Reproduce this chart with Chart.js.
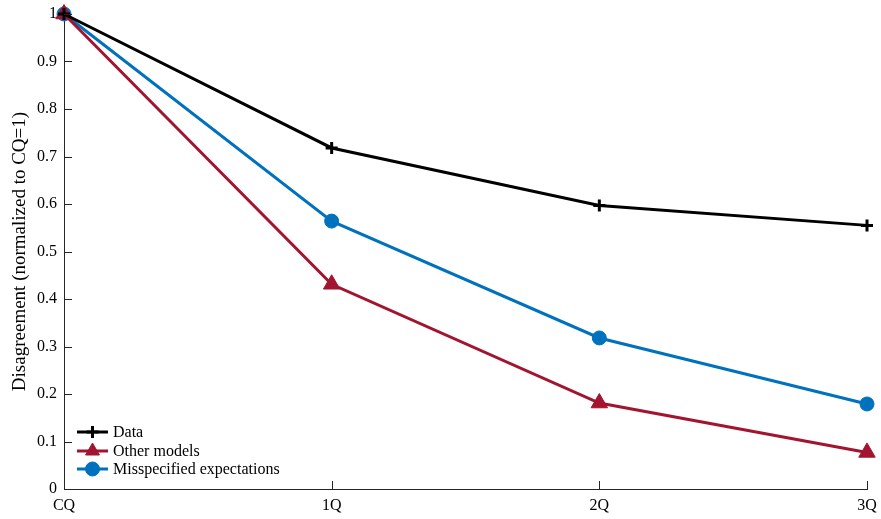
<!DOCTYPE html>
<html>
<head>
<meta charset="utf-8">
<script src="https://cdn.jsdelivr.net/npm/chart.js@4"></script>
<style>
  html, body { margin: 0; padding: 0; background: #fff; }
  #wrap { width: 881px; height: 519px; }
</style>
</head>
<body>
<div id="wrap"><canvas id="c" width="881" height="519"></canvas></div>
<script>
// Forecast horizons and normalized disagreement (CQ = 1)
const horizons = ['CQ', '1Q', '2Q', '3Q'];
const dataSeries = [1.0, 0.718, 0.597, 0.555];
const otherModels = [1.0, 0.431, 0.181, 0.077];
const misspecified = [1.0, 0.564, 0.318, 0.179];
const seriesNames = ['Data', 'Other models', 'Misspecified expectations'];
const yTicks = [0, 0.1, 0.2, 0.3, 0.4, 0.5, 0.6, 0.7, 0.8, 0.9, 1];

const FONT = '"Liberation Serif", "DejaVu Serif", serif';
const AXIS = '#262626';

// Inward tick marks on the left and bottom axes
const inwardTicks = {
  id: 'inwardTicks',
  afterDatasetsDraw(chart) {
    const { ctx, chartArea, scales } = chart;
    ctx.save();
    ctx.strokeStyle = AXIS;
    ctx.lineWidth = 1;
    ctx.beginPath();
    scales.y.ticks.forEach(t => {
      const y = Math.round(scales.y.getPixelForValue(t.value)) + 0.5;
      ctx.moveTo(chartArea.left, y);
      ctx.lineTo(chartArea.left + 8, y);
    });
    horizons.forEach((h, i) => {
      const x = Math.round(scales.x.getPixelForValue(i)) + 0.5;
      ctx.moveTo(x, chartArea.bottom);
      ctx.lineTo(x, chartArea.bottom - 8);
    });
    ctx.stroke();
    ctx.restore();
  }
};

// Legend with a line segment and marker for each series
const lineLegend = {
  id: 'lineLegend',
  afterDraw(chart) {
    const { ctx, chartArea } = chart;
    const x0 = chartArea.left + 13, x1 = chartArea.left + 44;
    const rows = [chartArea.bottom - 57, chartArea.bottom - 38, chartArea.bottom - 20];
    ctx.save();
    chart.data.datasets.forEach((ds, i) => {
      const y = rows[i];
      ctx.strokeStyle = ds.borderColor;
      ctx.fillStyle = ds.borderColor;
      ctx.lineWidth = ds.borderWidth;
      ctx.beginPath();
      ctx.moveTo(x0, y);
      ctx.lineTo(x1, y);
      ctx.stroke();
      ctx.lineWidth = ds.pointBorderWidth;
      Chart.helpers.drawPoint(ctx, {
        pointStyle: ds.pointStyle,
        radius: Math.min(ds.pointRadius, 8),
        borderWidth: ds.pointBorderWidth,
        rotation: 0
      }, (x0 + x1) / 2, y);
      ctx.fillStyle = '#000';
      ctx.font = '16px ' + FONT;
      ctx.textBaseline = 'middle';
      ctx.textAlign = 'left';
      ctx.fillText(ds.label, x1 + 5, y + 1);
    });
    ctx.restore();
  }
};

function pointStyleFor(color, style, radius, bw) {
  return {
    borderColor: color,
    backgroundColor: color,
    pointBackgroundColor: color,
    pointBorderColor: color,
    pointStyle: style,
    pointRadius: radius,
    pointHoverRadius: radius,
    pointBorderWidth: bw,
    borderWidth: 3,
    tension: 0,
    clip: false
  };
}

new Chart(document.getElementById('c'), {
  type: 'line',
  data: {
    labels: horizons,
    datasets: [
      Object.assign({ label: seriesNames[0], data: dataSeries }, pointStyleFor('#000000', 'cross', 6, 3)),
      Object.assign({ label: seriesNames[1], data: otherModels }, pointStyleFor('#A2142F', 'triangle', 9.5, 1)),
      Object.assign({ label: seriesNames[2], data: misspecified }, pointStyleFor('#0072BD', 'circle', 7, 1))
    ]
  },
  options: {
    responsive: false,
    animation: false,
    events: [],
    layout: { padding: { top: 14, right: 14, left: 0, bottom: 0 } },
    plugins: { legend: { display: false }, tooltip: { enabled: false } },
    scales: {
      x: {
        type: 'category',
        offset: false,
        grid: { display: false, drawTicks: false },
        border: { display: true, color: AXIS, width: 1 },
        ticks: { color: '#000', font: { family: FONT, size: 16 }, padding: 7, maxRotation: 0, autoSkip: false },
        afterFit(s) { s.height = 30; s.paddingLeft = 0; s.paddingRight = 0; }
      },
      y: {
        min: 0, max: 1,
        afterBuildTicks(s) { s.ticks = yTicks.map(v => ({ value: v })); },
        grid: { display: false, drawTicks: false },
        border: { display: true, color: AXIS, width: 1 },
        ticks: {
          color: '#000', font: { family: FONT, size: 16 }, padding: 7,
          callback: v => String(Number(v.toFixed(1)))
        },
        title: {
          display: true, text: 'Disagreement (normalized to CQ=1)',
          color: '#000', font: { family: FONT, size: 19 }, padding: { top: 9, bottom: 4 }
        },
        afterFit(s) { s.width = 64; s.paddingTop = 0; s.paddingBottom = 0; }
      }
    }
  },
  plugins: [inwardTicks, lineLegend]
});
</script>
</body>
</html>
